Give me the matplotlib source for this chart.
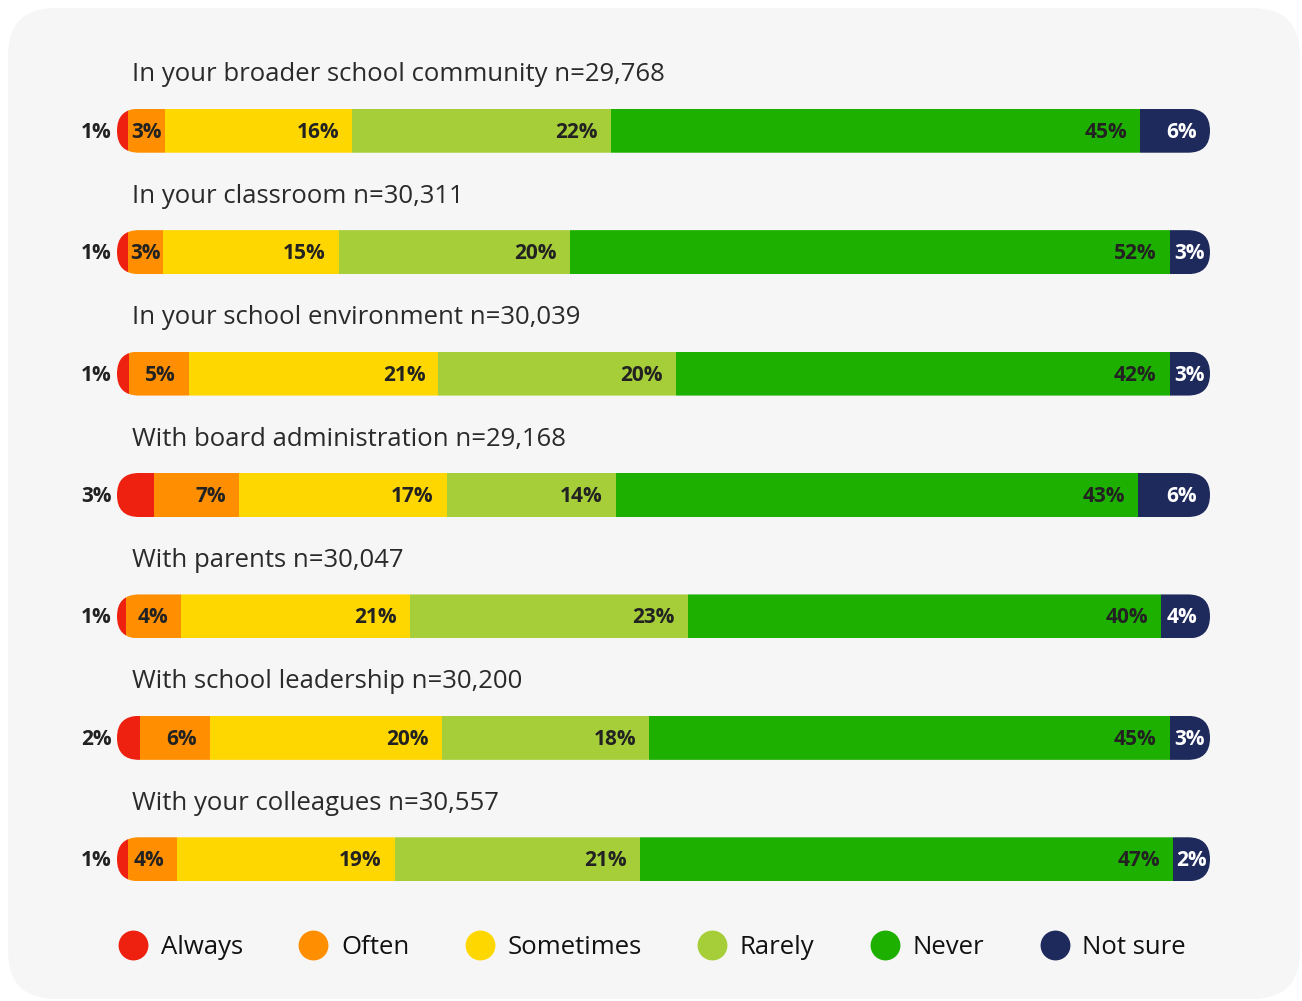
import matplotlib.pyplot as plt
from matplotlib.patches import FancyBboxPatch
from matplotlib.lines import Line2D

plt.rcParams['font.family'] = ['Open Sans', 'DejaVu Sans']

rows = ["In your broader school community", "In your classroom", "In your school environment",
        "With board administration", "With parents", "With school leadership", "With your colleagues"]
n_values = ["29,768", "30,311", "30,039", "29,168", "30,047", "30,200", "30,557"]

categories = ["Always", "Often", "Sometimes", "Rarely", "Never", "Not sure"]

# printed labels (%)
always = [1, 1, 1, 3, 1, 2, 1]
often = [3, 3, 5, 7, 4, 6, 4]
sometimes = [16, 15, 21, 17, 21, 20, 19]
rarely = [22, 20, 20, 14, 23, 18, 21]
never = [45, 52, 42, 43, 40, 45, 47]
not_sure = [6, 3, 3, 6, 4, 3, 2]

# segment lengths as drawn (share of the full bar)
always_w = [1.0, 1.0, 1.1, 3.4, 0.8, 2.1, 1.0]
often_w = [3.4, 3.2, 5.5, 7.8, 5.1, 6.4, 4.5]
sometimes_w = [17.1, 16.1, 22.8, 19.0, 20.9, 21.2, 19.9]
rarely_w = [23.7, 21.2, 21.7, 15.5, 25.4, 19.0, 22.4]
never_w = [48.4, 54.9, 45.2, 47.8, 43.3, 47.6, 48.7]
not_sure_w = [6.4, 3.7, 3.7, 6.6, 4.5, 3.7, 3.4]

colors = ["#ee2111", "#ff8f00", "#ffd700", "#a6ce39", "#1eb000", "#1f2a5c"]
labels = [always, often, sometimes, rarely, never, not_sure]
widths = [always_w, often_w, sometimes_w, rarely_w, never_w, not_sure_w]

W, H = 1302, 1001
fig = plt.figure(figsize=(W / 100, H / 100), dpi=100, facecolor="white")

# rounded grey panel behind everything
bg = fig.add_axes([0, 0, 1, 1], zorder=0)
bg.set_xlim(0, W)
bg.set_ylim(H, 0)
bg.axis("off")
bg.add_patch(FancyBboxPatch((8, 8), W - 10, H - 10, boxstyle="round,pad=0,rounding_size=48",
                            facecolor="#f6f6f6", edgecolor="none"))

# bar area in pixels
x0, x1 = 117, 1210
y_top, y_bot = 70, 920
ax = fig.add_axes([x0 / W, 1 - y_bot / H, (x1 - x0) / W, (y_bot - y_top) / H], zorder=1)
ax.set_xlim(0, 100)
ax.set_ylim(len(rows) - 0.5, -0.5)
ax.axis("off")

px_x = (x1 - x0) / 100           # pixels per percent
px_y = (y_bot - y_top) / len(rows)  # pixels per row
bar_h = 44 / px_y
radius = 22 / px_x
pad = 13 / px_x
dy = 1.5 / px_y

fig.canvas.draw()
renderer = fig.canvas.get_renderer()

for i, label in enumerate(rows):
    vals = [s[i] for s in labels]
    shares = [w[i] for w in widths]
    scale = 100 / sum(shares)
    shares = [s * scale for s in shares]

    pill = FancyBboxPatch((0, i - bar_h / 2), 100, bar_h,
                          boxstyle=f"round,pad=0,rounding_size={radius}",
                          mutation_aspect=(1 / px_y) / (1 / px_x))
    pill.set_transform(ax.transData)

    bars = ax.barh([i] * 6, shares, left=[sum(shares[:k]) for k in range(6)],
                   height=bar_h, color=colors, edgecolor="none")
    for b in bars:
        b.set_clip_path(pill)

    ax.text(15 / px_x, i - 0.46, f"{label} n={n_values[i]}", fontsize=18.5,
            color="#2a2a2a", va="center", ha="left")

    # Always label sits outside the bar
    ax.text(-5 / px_x, i + dy, f"{vals[0]}%", fontsize=15, fontweight="bold", color="#222222",
            ha="right", va="center", clip_on=False)

    left = shares[0]
    for k in range(1, 6):
        start, end = left, left + shares[k]
        tcol = "white" if k == 5 else "#222222"
        t = ax.text(end - pad, i + dy, f"{vals[k]}%", fontsize=15, fontweight="bold",
                    color=tcol, ha="right", va="center")
        bb = t.get_window_extent(renderer).transformed(ax.transData.inverted())
        if bb.x0 < start + 0.1:
            t.set_ha("center")
            t.set_x((start + end) / 2)
        left = end

handles = [Line2D([], [], marker="o", linestyle="none", markersize=21.5,
                  markerfacecolor=c, markeredgecolor="none") for c in colors]
fig.legend(handles, categories, loc="center", bbox_to_anchor=(652 / W, 1 - 947 / H),
           ncol=6, frameon=False, fontsize=18.5, handlelength=1.17, handletextpad=0.5,
           columnspacing=2.15, labelcolor="#111111")

fig.savefig("out.png", dpi=100, facecolor="white")
